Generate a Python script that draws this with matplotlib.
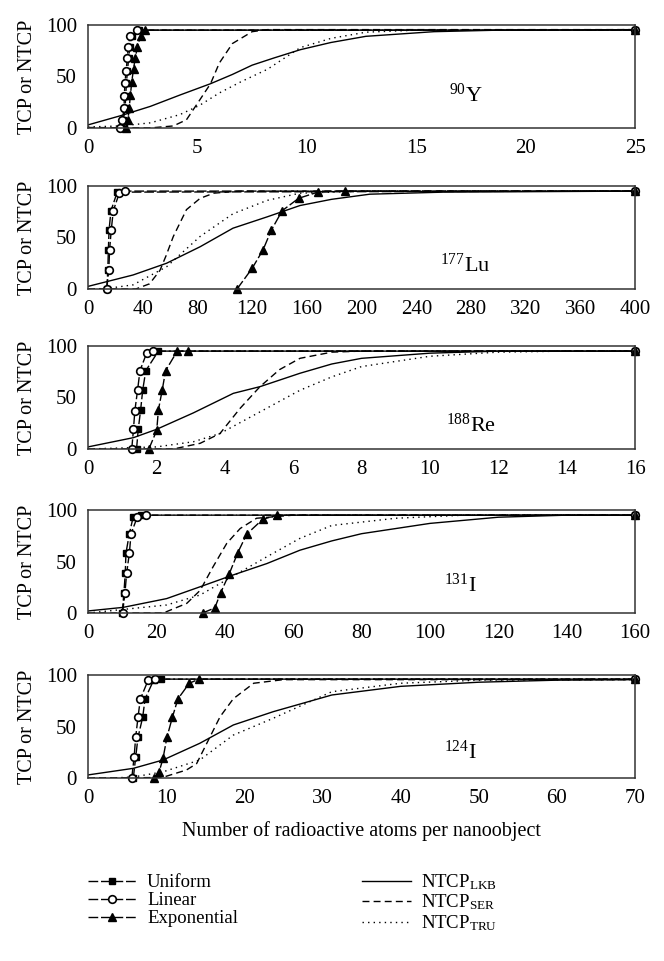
import matplotlib
matplotlib.use("Agg")
import matplotlib.pyplot as plt

plt.rcParams['font.family'] = 'serif'
plt.rcParams['font.serif'] = ['Liberation Serif', 'DejaVu Serif']
plt.rcParams['mathtext.fontset'] = 'custom'
plt.rcParams['mathtext.rm'] = 'Liberation Serif'
plt.rcParams['mathtext.it'] = 'Liberation Serif:italic'

# --- 90Y ---
y90_uni_x = [1.52, 1.62, 1.70, 1.72, 1.76, 1.80, 1.86, 1.91, 1.99, 2.35, 25]
y90_uni_y = [0, 8, 19, 31, 44, 55, 68, 79, 89, 95, 95]
y90_lin_x = [1.46, 1.57, 1.65, 1.66, 1.69, 1.74, 1.80, 1.84, 1.92, 2.25, 25]
y90_lin_y = [0, 8, 19, 31, 44, 55, 68, 79, 89, 95, 95]
y90_exp_x = [1.75, 1.83, 1.88, 1.94, 2.00, 2.08, 2.16, 2.26, 2.40, 2.62, 25]
y90_exp_y = [0, 8, 19, 32, 45, 57, 68, 79, 89, 95, 95]
y90_lkb_x = [0, 1.5, 2.85, 4.2, 5.6, 6.6, 7.5, 8.5, 9.7, 11.1, 12.7, 15.8, 18.8, 25]
y90_lkb_y = [3, 12, 21, 32, 43, 52, 61, 68, 76, 83, 89, 93.5, 95, 95.5]
y90_ser_x = [0, 2.8, 3.9, 4.5, 5.1, 5.6, 6.0, 6.6, 7.5, 8.2, 25]
y90_ser_y = [0.5, 0, 2, 8, 27, 43, 63, 82, 93.5, 95.5, 95.5]
y90_tru_x = [0, 1.5, 2.85, 4.2, 5.1, 6.0, 7.0, 8.2, 9.7, 11.1, 12.7, 15, 25]
y90_tru_y = [1, 2, 5, 13, 22, 34, 45, 57, 78, 87, 93, 95, 95.5]

# --- 177Lu ---
lu_uni_x = [13.7, 14.5, 14.9, 15.4, 16.8, 21.4, 400]
lu_uni_y = [0, 18, 38, 57, 76, 94, 95]
lu_lin_x = [13.7, 15.2, 15.8, 17.0, 18.5, 22.9, 27, 400]
lu_lin_y = [0, 18, 38, 57, 76, 93, 95, 95]
lu_exp_x = [109, 120, 128, 134, 142, 154, 168, 188, 400]
lu_exp_y = [0, 20, 38, 57, 76, 88, 94, 95, 95]
lu_lkb_x = [0, 33, 57.5, 82, 106, 131, 155, 178, 206, 260, 400]
lu_lkb_y = [2.5, 13.6, 25, 41, 59, 70, 81, 87, 92, 94, 95]
lu_ser_x = [0, 35, 45, 52.6, 57, 62.4, 72, 82, 92, 110, 400]
lu_ser_y = [0, 0, 5, 18, 32, 51, 77, 88, 93, 95, 95]
lu_tru_x = [0, 14, 33, 57.5, 82, 106, 131, 155, 200, 400]
lu_tru_y = [0, 0.5, 4, 21.6, 51, 73, 86, 93, 95, 95]

# --- 188Re ---
re_uni_x = [1.42, 1.47, 1.54, 1.60, 1.69, 2.06, 16]
re_uni_y = [0, 19, 38, 57, 76, 95, 95]
re_lin_x = [1.28, 1.33, 1.37, 1.45, 1.52, 1.72, 1.91, 16]
re_lin_y = [0, 19, 37, 57, 76, 93.5, 95, 95]
re_exp_x = [1.78, 2.01, 2.06, 2.17, 2.27, 2.61, 2.93, 16]
re_exp_y = [0, 18, 38, 57, 76, 95, 95, 95]
re_lkb_x = [0, 1.33, 2.0, 3.08, 4.25, 5.03, 6.2, 7.13, 8, 10, 12, 16]
re_lkb_y = [2, 11, 19, 35, 54, 60.5, 73.5, 82.5, 88, 93, 95, 95]
re_ser_x = [0, 2.5, 3.28, 3.86, 4.45, 5.03, 5.6, 6.2, 7.13, 8, 16]
re_ser_y = [0, 0, 5.5, 15, 39.5, 60.5, 77, 88, 94, 95, 95]
re_tru_x = [0, 2.0, 3.08, 3.86, 5.03, 6.2, 7.13, 8, 10, 12, 14, 16]
re_tru_y = [0, 2, 7, 15, 36, 57, 70, 80, 90, 94, 95, 95]

# --- 131I ---
i131_uni_x = [10.0, 10.5, 10.9, 11.1, 12.1, 13.2, 15.5, 160]
i131_uni_y = [0, 19, 38.5, 58, 77, 93, 95, 95]
i131_lin_x = [10.1, 10.8, 11.3, 12.1, 12.6, 14.4, 17, 160]
i131_lin_y = [0, 19, 38.5, 58, 77, 93, 95, 95]
i131_exp_x = [33.5, 37.1, 38.8, 41.3, 43.8, 46.4, 51.1, 55.4, 160]
i131_exp_y = [0, 5, 19.7, 38, 58.5, 76.5, 91, 95, 95]
i131_lkb_x = [0, 10.3, 23, 32.8, 42.5, 52.3, 62, 71.3, 80, 100, 120, 140, 160]
i131_lkb_y = [2, 5.5, 14, 25.5, 37, 48, 61, 70, 77, 87, 93, 95, 95]
i131_ser_x = [0, 22, 28.9, 32.8, 36.6, 40.6, 44.5, 49.3, 60, 160]
i131_ser_y = [0, 0, 9.4, 22, 45, 67.7, 82, 92, 95, 95]
i131_tru_x = [0, 13.3, 23, 32.8, 42.5, 52.3, 62, 71.3, 90, 110, 160]
i131_tru_y = [0, 4.5, 7.8, 17.5, 36, 54.6, 72.5, 85, 92, 95, 95]

# --- 124I ---
i124_uni_x = [5.8, 6.1, 6.4, 7.0, 7.3, 8.4, 9.3, 70]
i124_uni_y = [0, 20, 39.5, 59, 76.7, 95, 96, 96]
i124_lin_x = [5.6, 5.9, 6.1, 6.4, 6.7, 7.7, 8.6, 70]
i124_lin_y = [0, 20, 39.5, 59, 76.7, 95, 96, 96]
i124_exp_x = [8.4, 9.1, 9.6, 10.1, 10.8, 11.5, 12.96, 14.2, 70]
i124_exp_y = [0, 6, 19, 39.5, 59, 76.7, 92, 96, 96]
i124_lkb_x = [0, 5.8, 9.6, 14.3, 18.6, 23.7, 31.2, 40, 50, 60, 70]
i124_lkb_y = [3, 9.4, 17.5, 33.7, 51.5, 64.4, 80.6, 89, 93, 95, 95.5]
i124_ser_x = [0, 9.5, 12.6, 13.9, 15.2, 16.9, 18.6, 21.2, 25, 70]
i124_ser_y = [0, 0.5, 7.8, 14, 33.7, 59.5, 77, 92, 95.5, 95.5]
i124_tru_x = [0, 3, 5.8, 9.6, 14.3, 18.6, 23.7, 31.2, 40, 50, 70]
i124_tru_y = [0, 0, 1, 6, 17.5, 41.7, 58, 83.8, 92, 95, 95.5]

isotopes = [r'$^{90}$Y', r'$^{177}$Lu', r'$^{188}$Re', r'$^{131}$I', r'$^{124}$I']
x_max = [25, 400, 16, 160, 70]
x_step = [5, 40, 2, 20, 10]

panels = [
    (y90_uni_x, y90_uni_y, y90_lin_x, y90_lin_y, y90_exp_x, y90_exp_y,
     y90_lkb_x, y90_lkb_y, y90_ser_x, y90_ser_y, y90_tru_x, y90_tru_y),
    (lu_uni_x, lu_uni_y, lu_lin_x, lu_lin_y, lu_exp_x, lu_exp_y,
     lu_lkb_x, lu_lkb_y, lu_ser_x, lu_ser_y, lu_tru_x, lu_tru_y),
    (re_uni_x, re_uni_y, re_lin_x, re_lin_y, re_exp_x, re_exp_y,
     re_lkb_x, re_lkb_y, re_ser_x, re_ser_y, re_tru_x, re_tru_y),
    (i131_uni_x, i131_uni_y, i131_lin_x, i131_lin_y, i131_exp_x, i131_exp_y,
     i131_lkb_x, i131_lkb_y, i131_ser_x, i131_ser_y, i131_tru_x, i131_tru_y),
    (i124_uni_x, i124_uni_y, i124_lin_x, i124_lin_y, i124_exp_x, i124_exp_y,
     i124_lkb_x, i124_lkb_y, i124_ser_x, i124_ser_y, i124_tru_x, i124_tru_y),
]

# положение подписей изотопов (доля осей)
label_pos = [(0.69, 0.32), (0.69, 0.23), (0.70, 0.23), (0.68, 0.27), (0.68, 0.25)]
bottoms = [0.8668, 0.6993, 0.5328, 0.3621, 0.1904]

fig = plt.figure(figsize=(6.64, 9.61), dpi=100)
tcp_ls = (0, (7, 2))
lw = 1.0

for i, d in enumerate(panels):
    ax = fig.add_axes([0.1325, bottoms[i], 0.824, 0.1072])
    ux, uy, lx, ly, ex, ey, kx, ky, sx, sy, tx, ty = d
    ax.plot(kx, ky, color='black', lw=lw, label=r'NTCP$_{\mathrm{LKB}}$')
    ax.plot(sx, sy, color='black', lw=lw, ls=(0, (5, 3)), label=r'NTCP$_{\mathrm{SER}}$')
    ax.plot(tx, ty, color='black', lw=lw, ls=(0, (1, 3)), label=r'NTCP$_{\mathrm{TRU}}$')
    ax.plot(ux, uy, color='black', lw=lw, ls=tcp_ls, marker='s', ms=5,
            mfc='black', mec='black', clip_on=False, label='Uniform')
    ax.plot(lx, ly, color='black', lw=lw, ls=tcp_ls, marker='o', ms=5.5,
            mfc='white', mec='black', mew=1.2, clip_on=False, label='Linear')
    ax.plot(ex, ey, color='black', lw=lw, ls=tcp_ls, marker='^', ms=6,
            mfc='black', mec='black', clip_on=False, label='Exponential')
    ax.set_xlim(0, x_max[i])
    ax.set_ylim(0, 100)
    ax.set_xticks(range(0, x_max[i] + 1, x_step[i]))
    ax.set_yticks([0, 50, 100])
    ax.tick_params(length=0, labelsize=15, pad=8)
    for s in ax.spines.values():
        s.set_linewidth(1.1)
        s.set_color('#333333')
    ax.set_ylabel('TCP or NTCP', fontsize=14.5, labelpad=6)
    ax.text(label_pos[i][0], label_pos[i][1], isotopes[i], transform=ax.transAxes,
            fontsize=16, ha='center', va='center')
    if i == 4:
        ax.set_xlabel('Number of radioactive atoms per nanoobject', fontsize=14.5, labelpad=9)
        h, l = ax.get_legend_handles_labels()
        order = [3, 4, 5, 0, 1, 2]
        fig.legend([h[k] for k in order], [l[k] for k in order], ncol=2,
                   loc='upper left', bbox_to_anchor=(0.1325, 0.0925), frameon=False,
                   fontsize=13.5, handlelength=2.6, labelspacing=0.05,
                   columnspacing=6.6, handletextpad=0.55, borderpad=0,
                   borderaxespad=0)

fig.savefig('out.png', dpi=100)
